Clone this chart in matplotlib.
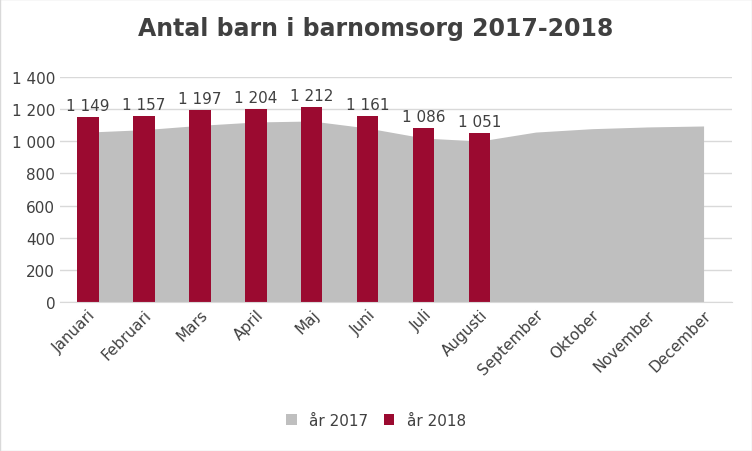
import matplotlib
matplotlib.use("Agg")
import matplotlib.pyplot as plt
import numpy as np

months = ["Januari","Februari","Mars","April","Maj","Juni","Juli","Augusti",
          "September","Oktober","November","December"]
y2017 = [1058,1073,1100,1121,1127,1083,1021,1002,1058,1079,1090,1096]
y2018 = [1149,1157,1197,1204,1212,1161,1086,1051]
yticks = [0,200,400,600,800,1000,1200,1400]

def fmt(v):
    return f"{v:,}".replace(",", "\u2009" if False else " ")

plt.rcParams["font.family"] = "DejaVu Sans"
fig = plt.figure(figsize=(7.52,4.52), dpi=100)
ax = fig.add_axes([0.0798, 0.33, 0.893, 0.497])
x = np.arange(len(months))
ax.fill_between(x, y2017, color="#bfbfbf", label="år 2017", zorder=1, lw=0)
bars = ax.bar(x[:len(y2018)], y2018, width=0.38, color="#9b0a30", label="år 2018", zorder=2)
for xi, v in zip(x, y2018):
    ax.text(xi, v+25, fmt(v), ha="center", va="bottom", fontsize=11, color="#404040")
ax.set_xlim(-0.5, len(months)-0.5)
ax.set_ylim(0,1400)
ax.set_yticks(yticks)
ax.set_yticklabels([fmt(t) for t in yticks], fontsize=11, color="#404040")
ax.set_xticks(x)
ax.set_xticklabels(months, rotation=45, ha="right", rotation_mode="anchor", fontsize=11, color="#404040")
ax.yaxis.grid(True, color="#d9d9d9", lw=1)
ax.set_axisbelow(True)
for s in ["top","right","left"]:
    ax.spines[s].set_visible(False)
ax.spines["bottom"].set_color("#d9d9d9")
ax.tick_params(length=0)
fig.text(0.5, 0.92, "Antal barn i barnomsorg 2017-2018", ha="center", fontsize=17, fontweight="bold", color="#404040")
h, l = ax.get_legend_handles_labels()
fig.legend(h, l, loc="center", bbox_to_anchor=(0.5, 0.068), ncol=2, frameon=False,
           fontsize=11, handlelength=0.7, handleheight=0.7, columnspacing=1.0, labelcolor="#404040")
fig.patches.append(plt.Rectangle((0,0),1,1,transform=fig.transFigure,fill=False,ec="#d9d9d9",lw=1))
fig.savefig("out.png", dpi=100)
